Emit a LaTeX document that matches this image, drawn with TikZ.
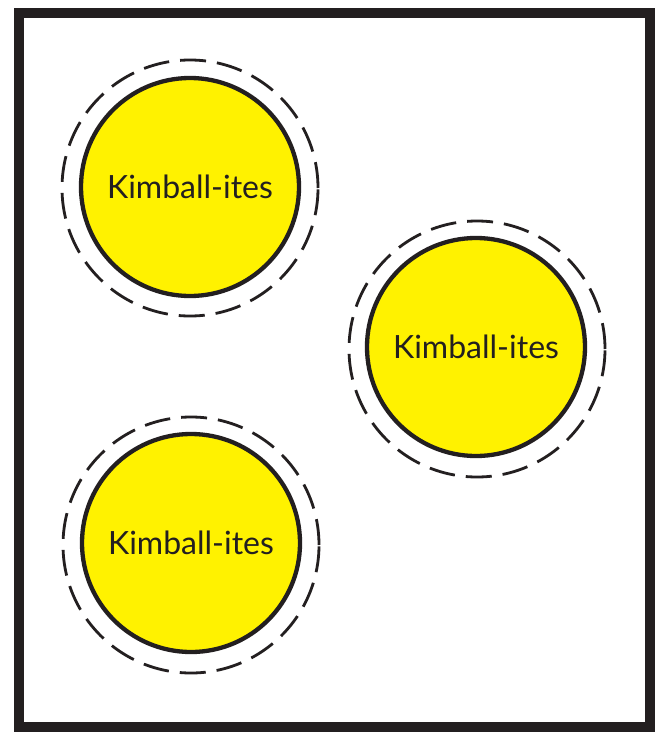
\documentclass[tikz,border=0pt]{standalone}
\usepackage{fontspec}
\setmainfont{Lato}
\definecolor{kyellow}{HTML}{FFF200}
\definecolor{kink}{HTML}{231F20}
\begin{document}
\begin{tikzpicture}[x=1pt,y=-1pt,
  group/.style={circle, draw=kink, line width=4.3pt, fill=kyellow, minimum size=218pt, inner sep=0pt, text=kink, font=\fontsize{32}{36}\selectfont},
  halo/.style={circle, draw=kink, line width=2.8pt, dash pattern=on 26pt off 11pt, minimum size=256pt, inner sep=0pt}]
\useasboundingbox (0,0) rectangle (657,736);
\fill[white] (0,0) rectangle (657,736);
\draw[kink, line width=10pt] (19,12.5) rectangle (650,727);
\node[halo] (h1) at (190,188) {};
\node[group] (g1) at (190,187) {Kimball-ites};
\node[halo] (h2) at (477,349) {};
\node[group] (g2) at (476,347) {Kimball-ites};
\node[halo] (h3) at (191,545) {};
\node[group] (g3) at (191,543) {Kimball-ites};
\end{tikzpicture}
\end{document}
